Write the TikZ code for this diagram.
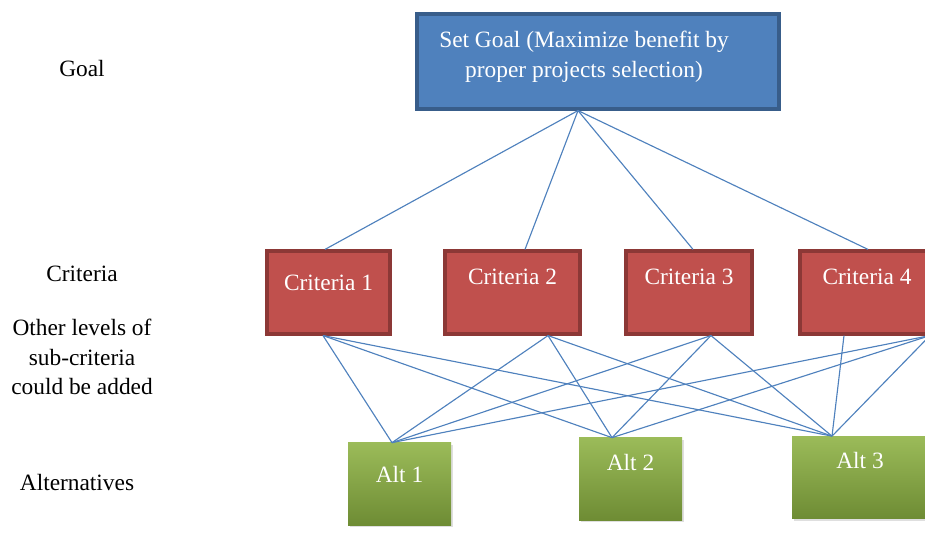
\documentclass[tikz,border=0pt]{standalone}
\usepackage{fontspec}
\setmainfont{Liberation Serif}
\usetikzlibrary{positioning, shadows, calc}

\definecolor{goalblue}{HTML}{4F81BD}
\definecolor{goaledge}{HTML}{385D8A}
\definecolor{critred}{HTML}{C0504D}
\definecolor{critedge}{HTML}{8C3836}
\definecolor{altlight}{HTML}{9BBB59}
\definecolor{altdark}{HTML}{6E8C34}

\begin{document}
\begin{tikzpicture}[
    % Styles
    every node/.style={
        font=\fontsize{13.3}{17}\selectfont
    },
    goalbox/.style={ % Top level box
        rectangle,
        draw=goaledge,
        line width=1.8pt,
        fill=goalblue,
        text=white,
        align=center,
        minimum width=7.24cm,
        minimum height=1.9cm
    },
    critbox/.style={ % Criteria boxes
        rectangle,
        draw=critedge,
        line width=1.8pt,
        fill=critred,
        text=white,
        minimum height=1.66cm
    },
    altbox/.style={ % Alternative boxes
        rectangle,
        top color=altlight,
        bottom color=altdark,
        text=white,
        minimum height=1.64cm,
        drop shadow={opacity=0.25, shadow xshift=0.04cm, shadow yshift=-0.04cm}
    },
    level/.style={ % Level names on the left
        align=center
    },
    link/.style={
        draw=goalblue,
        line width=0.65pt
    }
]
    \clip (0,0) rectangle (18.5,-10.66);

    % Level names
    \node[level] (lgoal) at (1.64,-1.38) {Goal};
    \node[level] (lcrit) at (1.64,-5.48) {Criteria};
    \node[level] (lsub) at (1.64,-7.14) {Other levels of\\sub-criteria\\could be added};
    \node[level] (lalt) at (1.54,-9.66) {Alternatives};

    % Goal node (text sits a little left of the middle)
    \node[goalbox, text depth=0.3cm] (goal) at (11.96,-1.23)
        {Set Goal (Maximize benefit by\hspace*{0.56cm}\\proper projects selection)\hspace*{0.56cm}};

    % Criteria nodes
    \foreach \i/\x/\w/\d in {1/6.57/2.46/0.38, 2/10.25/2.7/0.64, 3/13.78/2.52/0.64, 4/17.34/2.68/0.64}
        \node[critbox, minimum width=\w cm, text depth=\d cm] (c\i) at (\x,-5.85) {Criteria \i};

    % Alternative nodes
    \foreach \i/\x/\y/\w/\d in {1/7.99/-9.68/2.06/0.4, 2/12.61/-9.58/2.06/0.68, 3/17.2/-9.55/2.72/0.68}
        \node[altbox, minimum width=\w cm, text depth=\d cm] (a\i) at (\x,\y) {Alt \i};

    % Goal to criteria
    \coordinate (gb) at ([xshift=-0.4cm]goal.south);
    \foreach \i/\s in {1/-0.07, 2/0.25, 3/0.08, 4/0.02}
        \draw[link] (gb) -- ([xshift=\s cm]c\i.north);

    % Criteria to alternatives
    \coordinate (c1b) at ([xshift=-0.11cm]c1.south);
    \coordinate (c2b) at ([xshift=0.71cm]c2.south);
    \coordinate (c3b) at ([xshift=0.44cm]c3.south);
    \coordinate (c4b) at ([xshift=1.26cm]c4.south);
    \coordinate (c4m) at ([xshift=-0.46cm]c4.south);
    \coordinate (a1t) at ([xshift=-0.15cm]a1.north);
    \coordinate (a2t) at ([xshift=-0.37cm]a2.north);
    \coordinate (a3t) at ([xshift=-0.56cm]a3.north);
    \foreach \c in {c1b, c2b, c3b, c4b}
        \foreach \a in {a1t, a2t, a3t}
            \draw[link] (\c) -- (\a);
    \draw[link] (c4m) -- (a3t);
\end{tikzpicture}
\end{document}
